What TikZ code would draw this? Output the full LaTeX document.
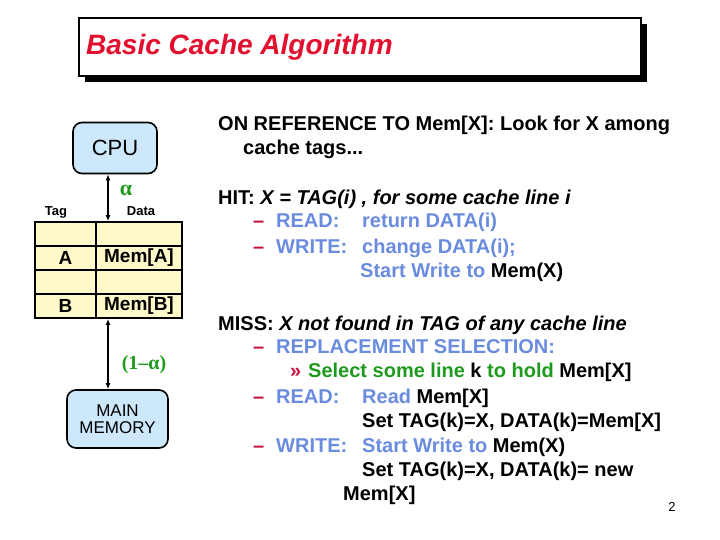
\documentclass[tikz,border=0pt]{standalone}
\usepackage{fontspec}
\setmainfont{Liberation Sans}
\newfontfamily\greekserif{Liberation Serif}
\usetikzlibrary{arrows.meta,positioning,shadows}
\definecolor{titlered}{HTML}{E2102E}
\definecolor{cpublue}{HTML}{CCE8FA}
\definecolor{cacheyellow}{HTML}{FFF9C9}
\definecolor{keyblue}{HTML}{6A8CDE}
\definecolor{dashred}{HTML}{C8103C}
\definecolor{hitgreen}{HTML}{1E9A1E}

\begin{document}
\begin{tikzpicture}[
    x=1pt, y=-1pt,
    titlebox/.style={rectangle, draw=black, line width=1.6pt, fill=white, minimum width=562pt, minimum height=58pt, general shadow={fill=black, shadow xshift=6pt, shadow yshift=-6pt}},
    unit/.style={rectangle, rounded corners=9pt, draw=black, line width=1.6pt, fill=cpublue, align=center, inner sep=0pt},
    cell/.style={rectangle, draw=black, line width=1.8pt, fill=cacheyellow, inner sep=0pt, minimum height=24pt, font=\bfseries\fontsize{19}{19}\selectfont},
    head/.style={font=\bfseries\fontsize{13}{13}\selectfont, anchor=base, inner sep=0pt},
    txtline/.style={anchor=base west, inner sep=0pt, font=\bfseries\fontsize{20}{20}\selectfont},
    dashmark/.style={txtline, text=dashred},
    keyword/.style={txtline, text=keyblue},
    ratio/.style={text=hitgreen, font=\greekserif\bfseries\fontsize{20}{20}\selectfont},
    link/.style={{Latex[length=6pt,width=5pt]}-{Latex[length=6pt,width=5pt]}, line width=1.3pt}
]
    \useasboundingbox (0,0) rectangle (720,540);

    % title
    \node[titlebox] (title) at (360,47) {};
    \node[anchor=base west, inner sep=0pt, text=titlered, font=\bfseries\itshape\fontsize{28}{28}\selectfont] (titletext) at (86,55) {Basic Cache Algorithm};

    % cpu, cache, memory
    \node[unit, minimum width=84pt, minimum height=51pt, font=\fontsize{22}{22}\selectfont] (cpu) at (115,148) {CPU};

    \node[cell, minimum width=61pt] (t1) at (65.5,234) {};
    \node[cell, minimum width=86pt] (d1) at (139,234) {};
    \node[cell, minimum width=61pt] (t2) at (65.5,258) {A};
    \node[cell, minimum width=86pt] (d2) at (139,258) {Mem[A]};
    \node[cell, minimum width=61pt] (t3) at (65.5,282) {};
    \node[cell, minimum width=86pt] (d3) at (139,282) {};
    \node[cell, minimum width=61pt] (t4) at (65.5,306) {B};
    \node[cell, minimum width=86pt] (d4) at (139,306) {Mem[B]};

    \node[head] (taghead) at (56,215) {Tag};
    \node[head] (datahead) at (141,215) {Data};

    \node[unit, minimum width=101pt, minimum height=58pt, font=\fontsize{17}{17}\selectfont] (mem) at (117.5,419) {MAIN\\MEMORY};

    \draw[link] ([xshift=-7pt]cpu.south) -- ([xshift=-31pt]d1.north);
    \draw[link] ([xshift=-31pt]d4.south) -- ([xshift=-9.5pt]mem.north);

    \node[ratio, font=\greekserif\bfseries\fontsize{22}{22}\selectfont] (hitrate) at (126,190) {α};
    \node[ratio] (missrate) at (144,365) {(1–α)};

    % algorithm text
    \node[txtline] (ref) at (218,131) {ON REFERENCE TO Mem[X]: Look for X among};
    \node[txtline] (ref2) at (243,155) {cache tags...};

    \node[txtline] (hit) at (218,205) {HIT: \textit{X = TAG(i) , for some cache line i}};
    \node[dashmark] (hd1) at (253,228) {–};
    \node[keyword] (hk1) at (276,228) {READ:};
    \node[keyword] (hv1) at (362,228) {return DATA(i)};
    \node[dashmark] (hd2) at (253,253) {–};
    \node[keyword] (hk2) at (276,253) {WRITE:};
    \node[keyword] (hv2) at (362,253) {change DATA(i);};
    \node[txtline] (hv3) at (360,277) {\textcolor{keyblue}{Start Write to} Mem(X)};

    \node[txtline] (miss) at (218,330) {MISS: \textit{X not found in TAG of any cache line}};
    \node[dashmark] (md1) at (253,353) {–};
    \node[keyword] (mk1) at (276,353) {REPLACEMENT SELECTION:};
    \node[dashmark] (msub) at (290,377) {»};
    \node[txtline] (mv1) at (308,377) {\textcolor{hitgreen}{Select some line} k \textcolor{hitgreen}{to hold} Mem[X]};
    \node[dashmark] (md2) at (253,403) {–};
    \node[keyword] (mk2) at (276,403) {READ:};
    \node[txtline] (mv2) at (362,403) {\textcolor{keyblue}{Read} Mem[X]};
    \node[txtline] (mv3) at (362,427) {Set TAG(k)=X, DATA(k)=Mem[X]};
    \node[dashmark] (md3) at (253,452) {–};
    \node[keyword] (mk3) at (276,452) {WRITE:};
    \node[txtline] (mv4) at (362,452) {\textcolor{keyblue}{Start Write to} Mem(X)};
    \node[txtline] (mv5) at (362,476) {Set TAG(k)=X, DATA(k)= new};
    \node[txtline] (mv6) at (343,500) {Mem[X]};

    \node[anchor=base, inner sep=0pt, font=\fontsize{13}{13}\selectfont] (page) at (672,511) {2};
\end{tikzpicture}
\end{document}
